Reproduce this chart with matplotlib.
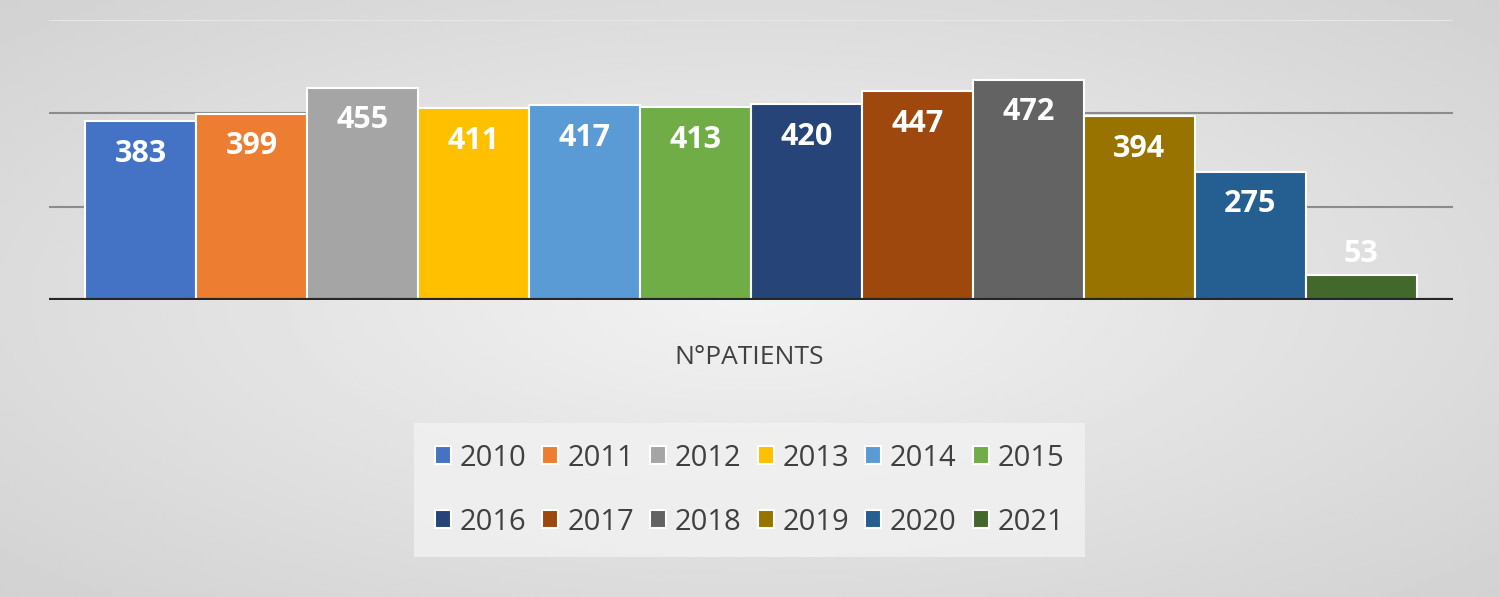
import matplotlib
matplotlib.use("Agg")
import matplotlib.pyplot as plt
import numpy as np

years = ["2010","2011","2012","2013","2014","2015","2016","2017","2018","2019","2020","2021"]
values = [383, 399, 455, 411, 417, 413, 420, 447, 472, 394, 275, 53]
colors = ["#4472C4","#ED7D31","#A5A5A5","#FFC000","#5B9BD5","#70AD47",
          "#264478","#9E480E","#636363","#997300","#255E91","#43682B"]
category = "N°PATIENTS"

fig = plt.figure(figsize=(14.99, 5.97), dpi=100)
bg = fig.add_axes([0, 0, 1, 1], zorder=-10)
yy, xx = np.mgrid[0:1:200j, 0:1:400j]
r = np.sqrt((xx - 0.5) ** 2 + (yy - 0.5) ** 2)
bg.imshow(0.95 - 0.18 * r, cmap="gray", vmin=0, vmax=1, aspect="auto", extent=[0, 1, 0, 1])
bg.axis("off")

ax = fig.add_axes([0.033, 0.4975, 0.936, 0.469])
ax.set_facecolor("none")
n = len(values)
gw = 0.949
w = gw / n
handles = []
for i, (y, v, c) in enumerate(zip(years, values, colors)):
    x = -gw / 2 + w * (i + 0.5)
    b = ax.bar(x, v, width=w, color=c, edgecolor="white", linewidth=1.5, label=y, zorder=3)
    handles.append(b)
    ty = v - 70 if v >= 100 else v + 45
    ax.text(x, ty, str(v), ha="center", va="center", color="white",
            fontsize=22, fontweight="bold", fontfamily="Open Sans", zorder=4)
ax.set_xlim(-0.5, 0.5)
ax.set_ylim(0, 600)
for g in [200, 400]:
    ax.axhline(g, color="#8c8c8c", linewidth=1.5, zorder=1)
ax.axhline(600, color="#e6e6e6", linewidth=1.5, zorder=1)
ax.axhline(0, color="#262626", linewidth=3, zorder=5)
for s in ax.spines.values():
    s.set_visible(False)
ax.set_xticks([])
ax.set_yticks([])

fig.text(0.5, 1 - 357 / 597, category, ha="center", va="center", fontsize=19,
         color="#404040", fontfamily="Open Sans")

# legend in row-major order (matplotlib fills column-major)
order = [0, 6, 1, 7, 2, 8, 3, 9, 4, 10, 5, 11]
leg = fig.legend([handles[k] for k in order], [years[k] for k in order],
                 loc="center", bbox_to_anchor=(0.5, 1 - 490 / 597), ncol=6,
                 prop={"family": "Open Sans", "size": 21}, frameon=True,
                 handlelength=0.55, handleheight=0.55, handletextpad=0.3,
                 columnspacing=0.55, labelspacing=1.2, borderpad=0.7,
                 labelcolor="#404040")
leg.get_frame().set_facecolor("#f2f2f2")
leg.get_frame().set_edgecolor("none")
leg.get_frame().set_boxstyle("square", pad=0)
fig.savefig("out.png", dpi=100)
